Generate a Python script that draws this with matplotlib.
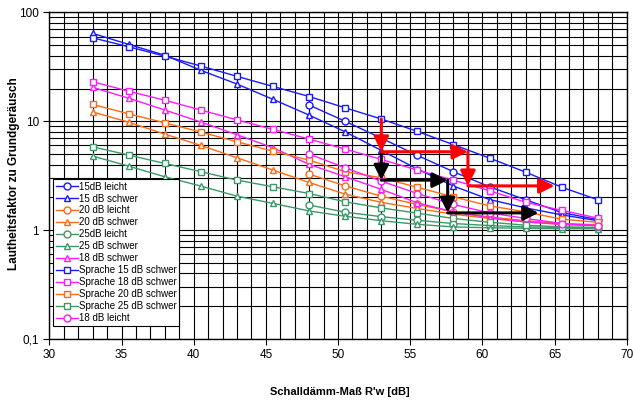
import matplotlib
matplotlib.use("Agg")
import matplotlib.pyplot as plt
import numpy as np

plt.rcParams['font.family'] = ['Liberation Sans', 'DejaVu Sans']

# x positions of the measured points
x_all = [33, 35.5, 38, 40.5, 43, 45.5, 48, 50.5, 53, 55.5, 58, 60.5, 63, 65.5, 68]
x_leicht = [48, 50.5, 53, 55.5, 58, 60.5, 63, 65.5, 68]

# 15 dB
blue_leicht = [14.1, 10.0, 7.0, 4.86, 3.44, 2.5, 1.9, 1.45, 1.25]
blue_schwer = [64.3, 50.9, 40.5, 29.4, 22.0, 15.9, 11.4, 8.0, 5.4, 3.64, 2.54, 1.91, 1.6, 1.38, 1.22]
blue_sprache = [58.5, 48.4, 39.7, 32.2, 25.9, 20.9, 16.9, 13.3, 10.5, 8.07, 6.1, 4.59, 3.41, 2.48, 1.9]
# 20 dB
orange_leicht = [3.27, 2.55, 2.05, 1.72, 1.47, 1.32, 1.22, 1.15, 1.12]
orange_schwer = [12.2, 9.8, 7.62, 6.0, 4.62, 3.56, 2.74, 2.14, 1.8, 1.58, 1.4, 1.28, 1.19, 1.13, 1.1]
orange_sprache = [14.3, 11.7, 9.68, 7.96, 6.49, 5.3, 4.4, 3.44, 3.03, 2.47, 2.02, 1.67, 1.47, 1.26, 1.18]
# 25 dB
green_leicht = [1.7, 1.46, 1.33, 1.23, 1.15, 1.1, 1.07, 1.06, 1.05]
green_schwer = [4.79, 3.87, 3.09, 2.54, 2.05, 1.76, 1.5, 1.34, 1.22, 1.13, 1.07, 1.05, 1.04, 1.03, 1.03]
green_sprache = [5.83, 4.89, 4.1, 3.44, 2.88, 2.5, 2.17, 1.82, 1.6, 1.43, 1.28, 1.18, 1.11, 1.07, 1.06]
# 18 dB
magenta_leicht = [5.0, 3.74, 2.82, 2.17, 1.72, 1.44, 1.28, 1.15, 1.1]
magenta_schwer = [20.5, 16.3, 12.7, 9.84, 7.52, 5.71, 4.02, 3.09, 2.37, 1.78, 1.47, 1.3, 1.19, 1.13, 1.1]
magenta_sprache = [23.1, 18.9, 15.6, 12.7, 10.3, 8.42, 6.86, 5.55, 4.47, 3.56, 2.88, 2.3, 1.8, 1.52, 1.29]

blue = '#1a1aff'
orange = '#ff6a13'
green = '#3a9a6a'
magenta = '#ff1aff'

# (label, x, y, colour, marker) in legend order
series = [
    ("15dB leicht", x_leicht, blue_leicht, blue, 'o'),
    ("15 dB schwer", x_all, blue_schwer, blue, '^'),
    ("20 dB leicht", x_leicht, orange_leicht, orange, 'o'),
    ("20 dB schwer", x_all, orange_schwer, orange, '^'),
    ("25dB leicht", x_leicht, green_leicht, green, 'o'),
    ("25 dB schwer", x_all, green_schwer, green, '^'),
    ("18 dB schwer", x_all, magenta_schwer, magenta, '^'),
    ("Sprache 15 dB schwer", x_all, blue_sprache, blue, 's'),
    ("Sprache 18 dB schwer", x_all, magenta_sprache, magenta, 's'),
    ("Sprache 20 dB schwer", x_all, orange_sprache, orange, 's'),
    ("Sprache 25 dB schwer", x_all, green_sprache, green, 's'),
    ("18 dB leicht", x_leicht, magenta_leicht, magenta, 'o'),
]

# arrows: (x0, y0, x1, y1)
red_arrows = [(53, 10.5, 53, 5.25), (53, 5.25, 59, 5.25),
              (59, 5.25, 59, 2.55), (59, 2.55, 65, 2.55)]
black_arrows = [(53, 5.25, 53, 2.88), (53, 2.88, 57.6, 2.88),
                (57.6, 2.88, 57.6, 1.44), (57.6, 1.44, 63.9, 1.44)]

fig = plt.figure(figsize=(6.33, 4.03), dpi=100)
ax = fig.add_axes([0.078, 0.159, 0.912, 0.81])
ax.set_yscale('log')
ax.set_xlim(30, 70)
ax.set_ylim(0.1, 100)

# grid: every unit vertically, log major+minor horizontally
ax.set_xticks(np.arange(30, 71, 5))
ax.set_xticks(np.arange(30, 71, 1), minor=True)
ax.grid(True, which='both', axis='both', color='black', linewidth=0.8)
ax.set_axisbelow(True)

for label, xs, ys, col, mk in series:
    ax.plot(xs, ys, color=col, linewidth=1.0, marker=mk, markersize=5,
            markerfacecolor='white', markeredgecolor=col, markeredgewidth=1.0,
            label=label, zorder=3)

def draw_arrows(arrows, col):
    for x0, y0, x1, y1 in arrows:
        ax.annotate('', xy=(x1, y1), xytext=(x0, y0),
                    arrowprops=dict(arrowstyle='-|>,head_length=0.9,head_width=0.45',
                                    color=col, lw=2.2, shrinkA=0, shrinkB=0),
                    zorder=5)

draw_arrows(black_arrows, 'black')
draw_arrows(red_arrows, '#ff0000')

ax.set_yticks([0.1, 1, 10, 100])
ax.set_yticklabels(['0,1', '1', '10', '100'])
ax.tick_params(axis='both', which='major', labelsize=8.5, length=4, color='black')
ax.tick_params(axis='both', which='minor', length=0)
ax.tick_params(axis='y', which='minor', left=False)
ax.yaxis.set_minor_formatter(matplotlib.ticker.NullFormatter())

for s in ax.spines.values():
    s.set_linewidth(1.0)

fig.text(0.022, 0.57, "Lautheitsfaktor zu Grundgeräusch", fontsize=8.5, fontweight='bold',
         rotation=90, ha='center', va='center')
fig.text(0.537, 0.02, "Schalldämm-Maß R'w [dB]", fontsize=8, fontweight='bold', ha='center')

leg = ax.legend(loc='lower left', bbox_to_anchor=(0.007, 0.04), fontsize=7,
                frameon=True, fancybox=False, edgecolor='black', framealpha=1,
                handlelength=2.2, labelspacing=0.2, borderpad=0.3, handletextpad=0.1,
                borderaxespad=0, markerscale=1.0)
leg.get_frame().set_linewidth(0.8)
leg.set_zorder(6)

fig.savefig('out.png', dpi=100)
